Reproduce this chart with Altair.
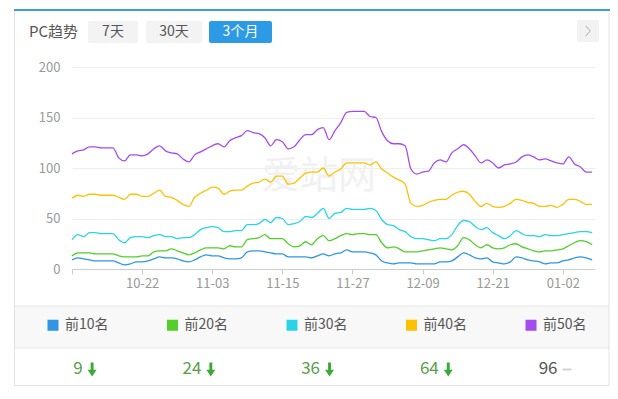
import json
import altair as alt
import pandas as pd

# ---------------- data ----------------
days = list(range(90))  # daily points, 10-10 .. 01-07
tick_days = [0, 12, 24, 36, 48, 60, 72, 84]
tick_labels = ["", "10-22", "11-03", "11-15", "11-27", "12-09", "12-21", "01-02"]
y_ticks = [0, 50, 100, 150, 200]

series = ["前10名", "前20名", "前30名", "前40名", "前50名"]
colors = ["#2e96e2", "#52cf2a", "#2ad4e6", "#fbc102", "#a44cee"]

top10 = [9, 11, 10, 9, 8, 8, 8, 8, 6, 4, 5, 7, 7, 8, 10, 12, 11, 11, 10, 8,
         7, 9, 12, 14, 13, 13, 11, 10, 10, 11, 17, 18, 18, 17, 16, 15, 15, 12, 12, 12,
         12, 11, 13, 15, 13, 15, 16, 19, 17, 17, 17, 16, 14, 8, 6, 5, 6, 6, 6, 5,
         5, 5, 5, 7, 7, 8, 12, 16, 14, 11, 10, 11, 7, 6, 5, 7, 12, 11, 9, 8,
         7, 5, 6, 6, 8, 9, 11, 12, 11, 9]
top20 = [13, 16, 16, 16, 15, 15, 15, 15, 13, 12, 12, 12, 13, 13, 17, 18, 18, 20, 18, 16,
         14, 16, 19, 21, 21, 21, 20, 23, 22, 22, 29, 30, 31, 34, 30, 30, 30, 25, 22, 23,
         27, 24, 30, 33, 28, 30, 33, 35, 34, 35, 35, 34, 34, 26, 21, 22, 20, 17, 17, 17,
         18, 19, 20, 21, 20, 19, 23, 31, 29, 24, 21, 24, 21, 20, 21, 24, 25, 22, 20, 18,
         17, 18, 18, 19, 20, 23, 26, 28, 27, 24]
top30 = [29, 34, 32, 36, 36, 35, 35, 35, 29, 26, 31, 32, 32, 31, 33, 34, 32, 32, 30, 31,
         31, 34, 39, 41, 42, 41, 37, 37, 38, 38, 44, 44, 45, 49, 46, 51, 50, 44, 45, 47,
         52, 51, 55, 60, 50, 55, 56, 60, 59, 59, 59, 60, 58, 49, 44, 43, 39, 37, 32, 30,
         30, 29, 28, 30, 30, 34, 43, 48, 47, 42, 39, 41, 36, 33, 30, 33, 38, 35, 33, 33,
         32, 34, 33, 33, 34, 35, 36, 37, 37, 36]
top40 = [70, 73, 72, 74, 74, 73, 73, 73, 71, 69, 74, 74, 72, 72, 75, 78, 72, 71, 68, 64,
         62, 71, 75, 78, 81, 80, 74, 77, 78, 78, 82, 85, 86, 89, 86, 92, 92, 84, 85, 90,
         95, 96, 96, 100, 92, 96, 99, 105, 105, 105, 105, 103, 106, 99, 95, 91, 88, 84, 65, 62,
         63, 66, 68, 69, 69, 73, 76, 77, 74, 67, 62, 65, 62, 61, 62, 65, 69, 68, 66, 65,
         62, 62, 63, 61, 64, 69, 69, 67, 64, 64]
top50 = [114, 117, 118, 121, 121, 120, 120, 120, 110, 107, 113, 113, 112, 114, 119, 122, 117, 115, 114, 109,
         106, 113, 116, 119, 122, 124, 121, 127, 130, 132, 137, 135, 134, 130, 122, 128, 126, 119, 121, 128,
         133, 133, 138, 140, 128, 137, 145, 155, 156, 156, 156, 151, 150, 136, 127, 124, 124, 122, 99, 94,
         96, 97, 105, 108, 106, 115, 119, 123, 119, 112, 105, 108, 105, 100, 103, 104, 106, 111, 113, 111,
         108, 109, 107, 105, 104, 111, 104, 101, 96, 96]

latest = [9, 24, 36, 64, 96]
trend = ["down", "down", "down", "down", "flat"]
buttons = ["7天", "30天", "3个月"]
header = "PC趋势"
watermark = "爱站网"

# ---------------- tables ----------------
rows = []
for name, vals in zip(series, [top10, top20, top30, top40, top50]):
    for d, v in zip(days, vals):
        rows.append({"day": d, "value": v, "series": name})
df = pd.DataFrame(rows)
vals_df = pd.DataFrame({"series": series, "latest": latest, "trend": trend})
one = pd.DataFrame({"a": [0]})

FONT = "Noto Sans CJK SC"
label_expr = f"{json.dumps(tick_labels, ensure_ascii=False)}[indexof({json.dumps(tick_days)}, datum.value)]"
ARROW = "M-0.21,-1L0.21,-1L0.21,0.05L0.64,0.05L0,1L-0.64,0.05L-0.21,0.05Z"
DASH = "M-1,-0.2L1,-0.2L1,0.2L-1,0.2Z"
CHEV = "M-0.45,-1L0.45,0L-0.45,1"
LEFT, RIGHT, BOTTOM = -57.5, 537, 318.5


def rect(x, x2, y, y2, fill, cr=0):
    return alt.Chart(one).mark_rect(fill=fill, cornerRadius=cr).encode(
        x=alt.value(x), x2=alt.value(x2), y=alt.value(y), y2=alt.value(y2))


def hrule(x, x2, y, color, w=1):
    return alt.Chart(one).mark_rule(color=color, strokeWidth=w).encode(
        x=alt.value(x), x2=alt.value(x2), y=alt.value(y))


def vrule(x, y, y2, color, w=1):
    return alt.Chart(one).mark_rule(color=color, strokeWidth=w).encode(
        x=alt.value(x), y=alt.value(y), y2=alt.value(y2))


def label(txt, x, y, size, color, align="center", weight="normal"):
    return alt.Chart(one).mark_text(text=txt, align=align, baseline="middle", fontSize=size,
                                    color=color, font=FONT, fontWeight=weight).encode(
        x=alt.value(x), y=alt.value(y))


# ---------------- chrome ----------------
chrome = [
    rect(LEFT, RIGHT, 239, 281, "#f8f8f8"),
    hrule(LEFT, RIGHT, 239, "#e6e6e6"),
    hrule(LEFT, RIGHT, 281, "#e6e6e6"),
    hrule(LEFT, RIGHT, BOTTOM, "#e3e3e3"),
    vrule(LEFT, -57, BOTTOM, "#e3e3e3"),
    vrule(RIGHT, -57, BOTTOM, "#e3e3e3"),
    hrule(-58, 538, -57, "#3f9fd2", 2),
    label(header, -43, -35, 15, "#555", align="left"),
    rect(16, 66, -46, -24, "#f3f3f3", 2),
    rect(74, 130, -46, -24, "#f3f3f3", 2),
    rect(137, 200, -46, -24, "#2d9ae5", 2),
    label(buttons[0], 41, -35, 14, "#555"),
    label(buttons[1], 102, -35, 14, "#555"),
    label(buttons[2], 168.5, -35, 14, "#ffffff"),
    rect(505, 527, -47, -25, "#f2f2f2", 1),
    alt.Chart(one).mark_point(shape=CHEV, filled=False, size=100, strokeWidth=1,
                              color="#aaaaaa", opacity=1).encode(x=alt.value(516), y=alt.value(-36)),
    label(watermark, 190, 110, 38, "#f1f1f1", align="left"),
]

# ---------------- lines ----------------
lines = alt.Chart(df).mark_line(interpolate="monotone", strokeWidth=1.3).encode(
    x=alt.X("day:Q", scale=alt.Scale(domain=[0, 89.5], nice=False, zero=False),
            axis=alt.Axis(values=tick_days, labelExpr=label_expr, title=None, grid=False,
                          domainColor="#cccccc", tickColor="#cccccc", tickSize=5,
                          labelColor="#999999", labelFontSize=13, labelPadding=3, labelFont=FONT)),
    y=alt.Y("value:Q", scale=alt.Scale(domain=[0, 200], nice=False),
            axis=alt.Axis(values=y_ticks, title=None, domain=False, ticks=False,
                          gridColor="#eeeeee", labelColor="#999999", labelFontSize=13,
                          labelPadding=12, labelFont=FONT)),
    color=alt.Color("series:N", sort=series, scale=alt.Scale(domain=series, range=colors),
                    legend=alt.Legend(orient="none", legendX=-26, legendY=251, direction="horizontal",
                                      columns=5, title=None, symbolType="square", symbolSize=25,
                                      symbolStrokeWidth=6, labelFontSize=14, labelColor="#555555",
                                      labelFont=FONT, labelOffset=5, columnPadding=48.5, padding=0)),
)

# ---------------- latest values row ----------------
numbers = alt.Chart(vals_df).mark_text(align="right", dx=-2, baseline="middle", fontSize=17,
                                       font=FONT).encode(
    x=alt.X("series:N", sort=series, scale=alt.Scale(type="point", domain=series, range=[12.6, 487.5], padding=0),
            axis=None),
    y=alt.value(302),
    text="latest:Q",
    color=alt.condition("datum.trend === 'down'", alt.value("#5a9e4a"), alt.value("#555555")),
)
arrows = alt.Chart(vals_df).transform_filter("datum.trend === 'down'").mark_point(
    shape=ARROW, filled=True, size=196, opacity=1, color="#3caa36").encode(
    x=alt.X("series:N", sort=series, scale=alt.Scale(type="point", domain=series, range=[20.1, 495], padding=0),
            axis=None),
    y=alt.value(302.5),
)
dashes = alt.Chart(vals_df).transform_filter("datum.trend === 'flat'").mark_point(
    shape=DASH, filled=True, size=81, opacity=1, color="#d0d0d0").encode(
    x=alt.X("series:N", sort=series, scale=alt.Scale(type="point", domain=series, range=[20.1, 495], padding=0),
            axis=None),
    y=alt.value(302.5),
)

chart = alt.layer(*chrome, lines, numbers, arrows, dashes).resolve_scale(
    x="independent"
).properties(
    width=523, height=202,
    autosize=alt.AutoSizeParams(type="none"),
    padding={"left": 64, "top": 59, "right": 15, "bottom": 118},
).configure(font=FONT).configure_view(stroke=None)

chart.save("out.html", embed_options={"renderer": "svg", "actions": False})
